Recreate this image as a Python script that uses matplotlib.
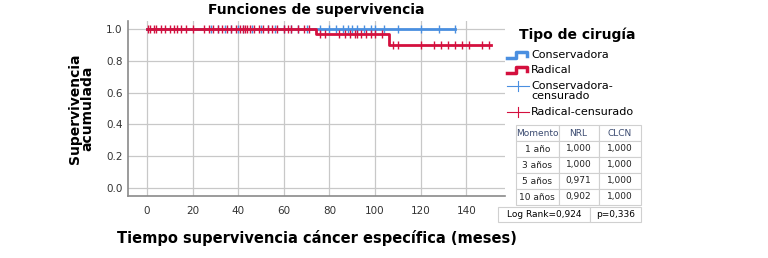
import matplotlib
matplotlib.use("Agg")
import matplotlib.pyplot as plt
import numpy as np

# Kaplan-Meier steps (time, survival)
cons_times = [0, 135]
cons_surv = [1.0, 1.0]
rad_times = [0, 74, 106, 151]
rad_surv = [1.0, 0.971, 0.902, 0.902]

# censored observations
cons_cens = [28, 31, 34, 37, 40, 42, 46, 50, 53, 56, 60, 63, 66, 70, 76, 80, 83, 86, 88,
             90, 92, 95, 98, 100, 104, 110, 120, 128, 135]
rad_cens_1 = [0.5, 1.5, 3, 4, 6, 8, 10, 12, 13, 15, 17, 20, 25, 27, 29, 31, 33, 35, 37, 39,
              41, 42, 43, 44, 45, 47, 49, 51, 53, 55, 57, 60, 62, 63, 66, 69, 71]
rad_cens_2 = [76, 78, 84, 87, 89, 91, 92, 94, 96, 98, 100, 103]
rad_cens_3 = [108, 110, 120, 126, 129, 132, 135, 138, 141, 147, 150]

table_cols = ["Momento", "NRL", "CLCN"]
table_rows = [["1 año", "1,000", "1,000"],
              ["3 años", "1,000", "1,000"],
              ["5 años", "0,971", "1,000"],
              ["10 años", "0,902", "1,000"]]
log_rank = "Log Rank=0,924"
p_value = "p=0,336"

blue = "#4a8fe0"
red = "#d4103e"

fig = plt.figure(figsize=(7.68, 2.58), dpi=100)
ax = fig.add_axes([0.1667, 0.2403, 0.491, 0.678])


def surv_at(times, surv, t):
    idx = np.searchsorted(times, t, side="right") - 1
    return surv[idx]


ax.step(cons_times, cons_surv, where="post", color=blue, lw=2)
ax.plot(cons_cens, [surv_at(cons_times, cons_surv, t) for t in cons_cens], ls="",
        marker="|", ms=6, mew=1, color=blue)
ax.step(rad_times, rad_surv, where="post", color=red, lw=2)
rad_cens = rad_cens_1 + rad_cens_2 + rad_cens_3
ax.plot(rad_cens, [surv_at(rad_times, rad_surv, t) for t in rad_cens], ls="",
        marker="|", ms=6, mew=1, color=red)

ax.set_xlim(-8.3, 157)
ax.set_ylim(-0.05, 1.05)
ax.set_xticks(np.arange(0, 141, 20))
ax.set_yticks(np.arange(0, 1.01, 0.2))
ax.set_yticklabels(["0.0", "0.2", "0.4", "0.6", "0.8", "1.0"])
ax.grid(True, color="#c8c8c8", lw=0.9)
ax.set_axisbelow(True)
for s in ["top", "right"]:
    ax.spines[s].set_visible(False)
for s in ["left", "bottom"]:
    ax.spines[s].set_color("#8a8a8a")
    ax.spines[s].set_linewidth(1.2)
ax.tick_params(length=0, labelsize=7.5, colors="#333333", pad=4)
ax.tick_params(axis="x", pad=7)

ax.set_title("Funciones de supervivencia", fontsize=10, fontweight="bold", pad=5)
ax.set_xlabel("Tiempo supervivencia cáncer específica (meses)", fontsize=10.5,
              fontweight="bold", labelpad=10)
ax.set_ylabel("Supervivencia\nacumulada", fontsize=10, fontweight="bold",
              linespacing=0.9, labelpad=8)

# legend drawn by hand in figure pixels
W, H = 768, 258


def fx(px):
    return px / W


def fy(py):
    return 1 - py / H


fig.text(fx(519), fy(35), "Tipo de cirugía", fontsize=10, fontweight="bold",
         va="center", ha="left")
items = [("Conservadora", blue, "step", 55),
         ("Radical", red, "step", 70),
         ("Conservadora-\ncensurado", blue, "cens", 91),
         ("Radical-censurado", red, "cens", 112)]
for label, col, kind, py in items:
    if kind == "step":
        xs = [fx(507), fx(516), fx(516), fx(527), fx(527)]
        ys = [fy(py + 3), fy(py + 3), fy(py - 3), fy(py - 3), fy(py + 1)]
        fig.add_artist(plt.Line2D(xs, ys, color=col, lw=2.5))
        fig.text(fx(531), fy(py), label, fontsize=8, va="center", ha="left")
    else:
        yline = py - 5 if "\n" in label else py
        fig.add_artist(plt.Line2D([fx(507), fx(529)], [fy(yline), fy(yline)], color=col, lw=0.8))
        fig.add_artist(plt.Line2D([fx(518), fx(518)], [fy(yline - 5), fy(yline + 5)], color=col, lw=0.8))
        fig.text(fx(531), fy(py), label, fontsize=8, va="center", ha="left",
                 linespacing=0.9)

# survival table
tab_ax = fig.add_axes([fx(516), fy(205), fx(641) - fx(516), fy(125) - fy(205)])
tab_ax.axis("off")
tbl = tab_ax.table(cellText=table_rows, colLabels=table_cols, cellLoc="center",
                   bbox=[0, 0, 1, 1], colWidths=[0.34, 0.32, 0.34])
tbl.auto_set_font_size(False)
for (r, c), cell in tbl.get_celld().items():
    cell.set_edgecolor("#d0d0d0")
    cell.set_linewidth(0.8)
    cell.get_text().set_fontsize(6.5)
    if r == 0:
        cell.get_text().set_color("#3a4a70")
    else:
        cell.get_text().set_color("#222222")

lr_ax = fig.add_axes([fx(498), fy(222), fx(641) - fx(498), fy(207) - fy(222)])
lr_ax.axis("off")
lr = lr_ax.table(cellText=[[log_rank, p_value]], cellLoc="center", bbox=[0, 0, 1, 1],
                 colWidths=[0.64, 0.36])
lr.auto_set_font_size(False)
for (r, c), cell in lr.get_celld().items():
    cell.set_edgecolor("#d0d0d0")
    cell.set_linewidth(0.8)
    cell.get_text().set_fontsize(6.5)

fig.savefig("out.png", dpi=100)
